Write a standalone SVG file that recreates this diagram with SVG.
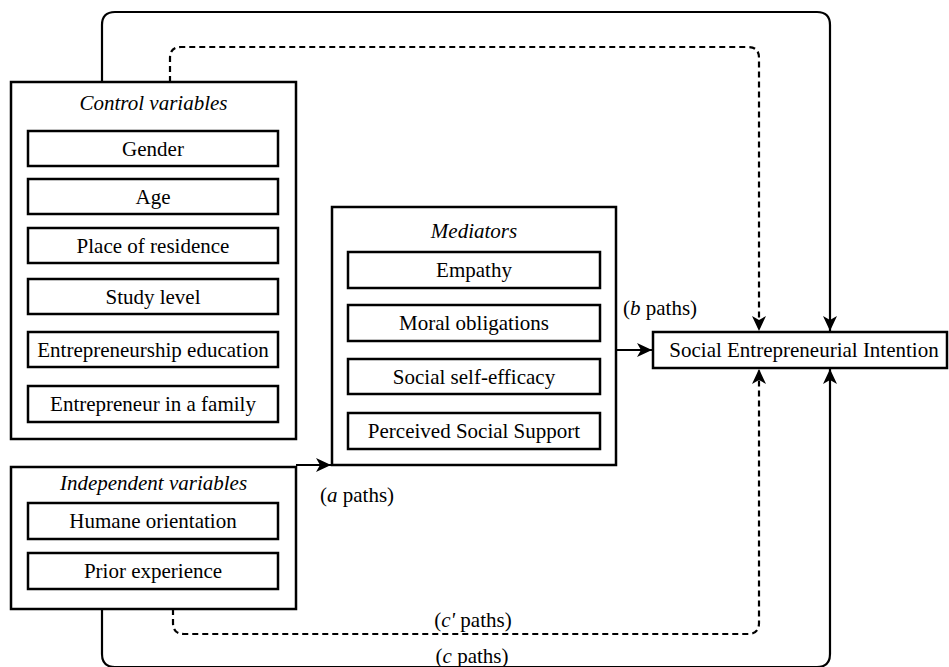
<svg xmlns="http://www.w3.org/2000/svg" width="949" height="667" viewBox="0 0 949 667">
<defs>
<style>
.box{fill:#fff;stroke:#000;stroke-width:2.5}
.t{font-family:"Liberation Serif","Times New Roman",serif;font-size:21px;fill:#000;text-anchor:middle}
.ti{font-style:italic}
.lbl{font-family:"Liberation Serif","Times New Roman",serif;font-size:21px;fill:#000}
.c{fill:none;stroke:#000;stroke-width:2.2}
.d{fill:none;stroke:#000;stroke-width:2.2;stroke-dasharray:6 4}
</style>
<marker id="ah" markerUnits="userSpaceOnUse" markerWidth="16" markerHeight="14" refX="15" refY="7" orient="auto">
<path d="M0,0 L15,7 L0,14 L4,7 Z" fill="#000"/>
</marker>
</defs>
<rect width="949" height="667" fill="#fff"/>

<g id="connectors">
<path class="c" d="M102,82 V25 Q102,12 115,12 H817 Q830,12 830,25 V331" marker-end="url(#ah)"/>
<path class="d" d="M170,82 V58 Q170,47 181,47 H748 Q759,47 759,58 V331" marker-end="url(#ah)"/>
<path class="c" d="M102,609 V654 Q102,667 115,667 H817 Q830,667 830,654 V369" marker-end="url(#ah)"/>
<path class="d" d="M173,609 V623 Q173,634 184,634 H748 Q759,634 759,623 V369" marker-end="url(#ah)"/>
<path class="c" d="M296,465 H331" marker-end="url(#ah)"/>
<path class="c" d="M616,350 H652" marker-end="url(#ah)"/>
<text class="lbl" x="320" y="502">(<tspan font-style="italic">a</tspan> paths)</text>
<text class="lbl" x="623" y="315">(<tspan font-style="italic">b</tspan> paths)</text>
<text class="lbl" x="473" y="627" text-anchor="middle">(<tspan font-style="italic">c'</tspan> paths)</text>
<text class="lbl" x="472" y="663" text-anchor="middle">(<tspan font-style="italic">c</tspan> paths)</text>
</g>

<g id="control-variables">
<rect class="box" x="11" y="82" width="285" height="357"/>
<text class="t ti" x="153.5" y="110">Control variables</text>
</g>
<g id="gender"><rect class="box" x="28" y="131" width="250" height="35"/><text class="t" x="153" y="155.5">Gender</text></g>
<g id="age"><rect class="box" x="28" y="179" width="250" height="35"/><text class="t" x="153" y="203.5">Age</text></g>
<g id="place-of-residence"><rect class="box" x="28" y="228" width="250" height="35"/><text class="t" x="153" y="252.5">Place of residence</text></g>
<g id="study-level"><rect class="box" x="28" y="279" width="250" height="35"/><text class="t" x="153" y="303.5">Study level</text></g>
<g id="entrepreneurship-education"><rect class="box" x="28" y="332" width="250" height="35"/><text class="t" x="153" y="356.5">Entrepreneurship education</text></g>
<g id="entrepreneur-in-family"><rect class="box" x="28" y="386" width="250" height="36"/><text class="t" x="153" y="411">Entrepreneur in a family</text></g>

<g id="independent-variables">
<rect class="box" x="11" y="467" width="285" height="142"/>
<text class="t ti" x="153.5" y="490">Independent variables</text>
</g>
<g id="humane-orientation"><rect class="box" x="28" y="503" width="250" height="36"/><text class="t" x="153" y="528">Humane orientation</text></g>
<g id="prior-experience"><rect class="box" x="28" y="553" width="250" height="36"/><text class="t" x="153" y="578">Prior experience</text></g>

<g id="mediators">
<rect class="box" x="332" y="207" width="284" height="258"/>
<text class="t ti" x="474" y="238">Mediators</text>
</g>
<g id="empathy"><rect class="box" x="348" y="252" width="252" height="36"/><text class="t" x="474" y="277">Empathy</text></g>
<g id="moral-obligations"><rect class="box" x="348" y="305" width="252" height="36"/><text class="t" x="474" y="330">Moral obligations</text></g>
<g id="social-self-efficacy"><rect class="box" x="348" y="359" width="252" height="35"/><text class="t" x="474" y="383.5">Social self-efficacy</text></g>
<g id="perceived-social-support"><rect class="box" x="348" y="413" width="252" height="36"/><text class="t" x="474" y="438">Perceived Social Support</text></g>

<g id="social-entrepreneurial-intention">
<rect class="box" x="653" y="332" width="294" height="36"/>
<text class="t" x="804" y="357">Social Entrepreneurial Intention</text>
</g>
</svg>
